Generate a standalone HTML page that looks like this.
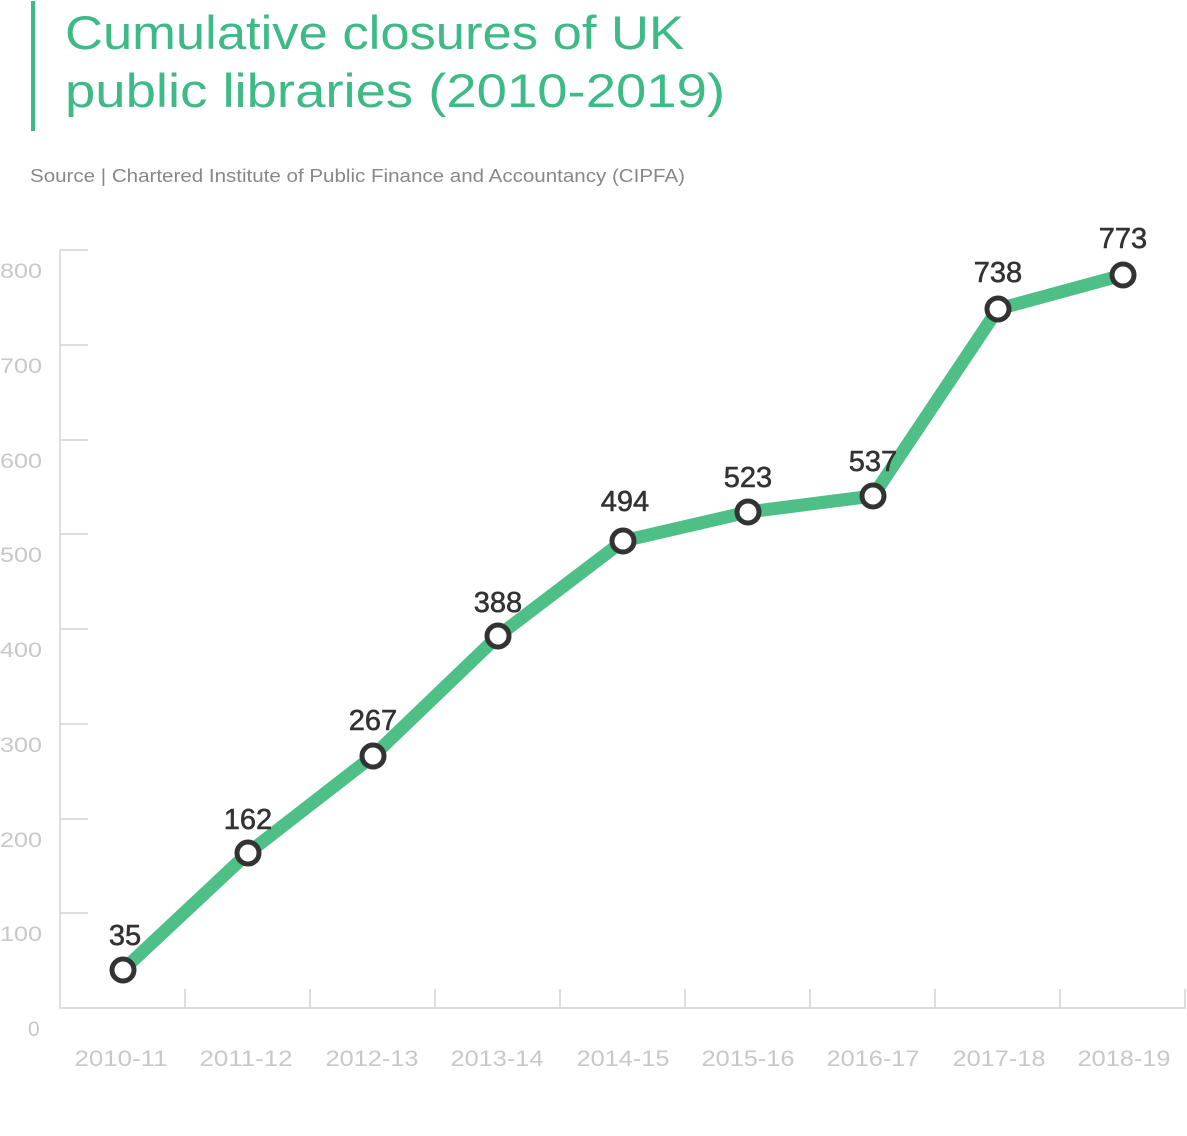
<!DOCTYPE html><html><head><style>body{margin:0;background:#fff}</style></head><body>
<svg width="1187" height="1131" xmlns="http://www.w3.org/2000/svg" font-family="Liberation Sans, sans-serif">
<rect x="31" y="1" width="4" height="130" fill="#3dba85"/>
<text x="65" y="49" font-size="47" fill="#3dba85" textLength="619" lengthAdjust="spacingAndGlyphs">Cumulative closures of UK</text>
<text x="65" y="107" font-size="47" fill="#3dba85" textLength="660" lengthAdjust="spacingAndGlyphs">public libraries (2010-2019)</text>
<text x="30" y="182" font-size="18" fill="#888" textLength="655" lengthAdjust="spacingAndGlyphs">Source | Chartered Institute of Public Finance and Accountancy (CIPFA)</text>
<g stroke="#d4d4d4" stroke-width="1.5" fill="none">
<path d="M60 250V1008H1186"/>
<path d="M60 250H88M60 345H88M60 440H88M60 534H88M60 629H88M60 724H88M60 819H88M60 913H88"/>
<path d="M185 989V1008M310 989V1008M435 989V1008M560 989V1008M685 989V1008M810 989V1008M935 989V1008M1060 989V1008M1185 989V1008"/>
</g>
<g font-size="21" fill="#c8c8c8">
<text x="0" y="278" textLength="42" lengthAdjust="spacingAndGlyphs">800</text><text x="0" y="373" textLength="42" lengthAdjust="spacingAndGlyphs">700</text><text x="0" y="468" textLength="42" lengthAdjust="spacingAndGlyphs">600</text><text x="0" y="562" textLength="42" lengthAdjust="spacingAndGlyphs">500</text><text x="0" y="657" textLength="42" lengthAdjust="spacingAndGlyphs">400</text><text x="0" y="752" textLength="42" lengthAdjust="spacingAndGlyphs">300</text><text x="0" y="847" textLength="42" lengthAdjust="spacingAndGlyphs">200</text><text x="0" y="941" textLength="42" lengthAdjust="spacingAndGlyphs">100</text><text x="28" y="1036">0</text>
</g>
<g font-size="22" fill="#c8c8c8" text-anchor="middle" lengthAdjust="spacingAndGlyphs">
<text x="121" y="1066" textLength="93" lengthAdjust="spacingAndGlyphs">2010-11</text><text x="246" y="1066" textLength="93" lengthAdjust="spacingAndGlyphs">2011-12</text><text x="372" y="1066" textLength="93" lengthAdjust="spacingAndGlyphs">2012-13</text><text x="497" y="1066" textLength="93" lengthAdjust="spacingAndGlyphs">2013-14</text><text x="623" y="1066" textLength="93" lengthAdjust="spacingAndGlyphs">2014-15</text><text x="748" y="1066" textLength="93" lengthAdjust="spacingAndGlyphs">2015-16</text><text x="873" y="1066" textLength="93" lengthAdjust="spacingAndGlyphs">2016-17</text><text x="999" y="1066" textLength="93" lengthAdjust="spacingAndGlyphs">2017-18</text><text x="1124" y="1066" textLength="93" lengthAdjust="spacingAndGlyphs">2018-19</text>
</g>
<polyline points="123,970 248,853 373,756 498,636 623,541 748,512 873,496 998,309 1123,275" fill="none" stroke="#4dbf87" stroke-width="13" stroke-linejoin="miter"/>
<g fill="#fff" stroke="#333" stroke-width="5">
<circle cx="123" cy="970" r="11"/><circle cx="248" cy="853" r="11"/><circle cx="373" cy="756" r="11"/><circle cx="498" cy="636" r="11"/><circle cx="623" cy="541" r="11"/><circle cx="748" cy="512" r="11"/><circle cx="873" cy="496" r="11"/><circle cx="998" cy="309" r="11"/><circle cx="1123" cy="275" r="11"/>
</g>
<g font-size="29" fill="#333" text-anchor="middle" stroke="#333" stroke-width="0.6">
<text x="125" y="945">35</text><text x="248" y="829">162</text><text x="373" y="730">267</text><text x="498" y="612">388</text><text x="625" y="511">494</text><text x="748" y="487">523</text><text x="873" y="471">537</text><text x="998" y="282">738</text><text x="1123" y="248">773</text>
</g>
</svg>
</body></html>
